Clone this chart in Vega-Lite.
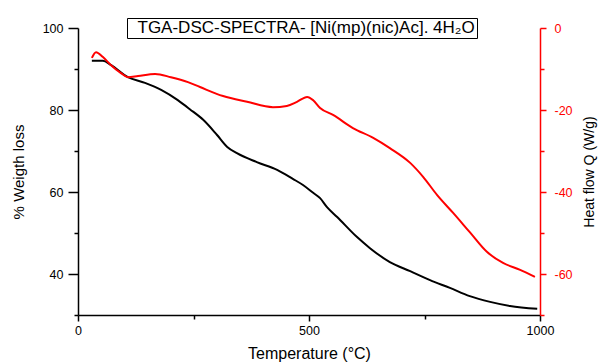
{
  "$schema": "https://vega.github.io/schema/vega-lite/v6.json",
  "width": 462,
  "height": 287,
  "autosize": {"type": "none"},
  "padding": {"left": 78, "top": 28, "right": 58, "bottom": 48},
  "background": "white",
  "config": {
    "view": {"stroke": null},
    "font": "Liberation Sans",
    "axis": {
      "labelFont": "Liberation Sans",
      "titleFont": "Liberation Sans",
      "titleFontWeight": "normal",
      "grid": false,
      "labelFlush": false,
      "domainColor": "black",
      "tickColor": "black",
      "labelColor": "black",
      "titleColor": "black",
      "domainWidth": 1.5,
      "tickWidth": 1.5,
      "labelFontSize": 12.5,
      "titleFontSize": 15
    }
  },
  "datasets": {
    "tga": [
      {"T": 30, "W": 92.0}, {"T": 54, "W": 92.0}, {"T": 71, "W": 91.0}, {"T": 108, "W": 88.0},
      {"T": 145, "W": 86.6}, {"T": 180, "W": 84.9}, {"T": 216, "W": 82.4}, {"T": 242, "W": 80.2},
      {"T": 271, "W": 77.6}, {"T": 301, "W": 73.9}, {"T": 323, "W": 71.0}, {"T": 344, "W": 69.5},
      {"T": 387, "W": 67.3}, {"T": 431, "W": 65.4}, {"T": 465, "W": 63.2}, {"T": 487, "W": 61.7},
      {"T": 509, "W": 59.8}, {"T": 524, "W": 58.5}, {"T": 539, "W": 56.3}, {"T": 561, "W": 53.9},
      {"T": 604, "W": 49.0}, {"T": 632, "W": 46.3}, {"T": 675, "W": 42.9}, {"T": 719, "W": 40.7},
      {"T": 762, "W": 38.5}, {"T": 805, "W": 36.6}, {"T": 848, "W": 34.6}, {"T": 892, "W": 33.2},
      {"T": 935, "W": 32.2}, {"T": 994, "W": 31.5}
    ],
    "dsc": [
      {"T": 30, "Q": -7.3}, {"T": 39, "Q": -5.9}, {"T": 54, "Q": -7.1}, {"T": 71, "Q": -9.0},
      {"T": 93, "Q": -11.0}, {"T": 108, "Q": -12.0}, {"T": 130, "Q": -11.7}, {"T": 167, "Q": -11.2},
      {"T": 201, "Q": -12.0}, {"T": 238, "Q": -13.2}, {"T": 264, "Q": -14.4}, {"T": 314, "Q": -16.6},
      {"T": 366, "Q": -18.0}, {"T": 422, "Q": -19.3}, {"T": 452, "Q": -19.0}, {"T": 474, "Q": -18.0},
      {"T": 496, "Q": -16.8}, {"T": 509, "Q": -17.6}, {"T": 524, "Q": -19.5}, {"T": 552, "Q": -21.2},
      {"T": 595, "Q": -24.4}, {"T": 639, "Q": -26.8}, {"T": 675, "Q": -29.3}, {"T": 719, "Q": -32.9},
      {"T": 747, "Q": -36.3}, {"T": 777, "Q": -40.7}, {"T": 812, "Q": -45.1}, {"T": 848, "Q": -49.8},
      {"T": 885, "Q": -54.6}, {"T": 920, "Q": -57.3}, {"T": 957, "Q": -59.0}, {"T": 989, "Q": -60.7}
    ]
  },
  "layer": [
    {
      "data": {"name": "tga"},
      "mark": {"type": "line", "color": "black", "strokeWidth": 2, "interpolate": "monotone"},
      "encoding": {
        "x": {
          "field": "T", "type": "quantitative",
          "scale": {"domain": [0, 1000], "nice": false},
          "axis": {
            "title": "Temperature (°C)",
            "titleFontSize": 16,
            "values": [0, 250, 500, 750, 1000],
            "format": "d",
            "labelExpr": "datum.value % 500 == 0 ? datum.label : ''",
            "tickSize": {"condition": {"test": "datum.value % 500 == 0", "value": 6}, "value": 4},
            "labelPadding": 3,
            "titlePadding": 9
          }
        },
        "y": {
          "field": "W", "type": "quantitative",
          "scale": {"domain": [30, 100], "nice": false, "zero": false},
          "axis": {
            "title": "% Weigth loss",
            "orient": "left",
            "values": [30, 40, 50, 60, 70, 80, 90, 100],
            "labelExpr": "datum.value % 20 == 0 ? datum.label : ''",
            "tickSize": {"condition": {"test": "datum.value % 20 == 0", "value": 10}, "value": 4},
            "labelPadding": 5,
            "titlePadding": 16
          }
        }
      }
    },
    {
      "data": {"name": "dsc"},
      "mark": {"type": "line", "color": "#ff0000", "strokeWidth": 2, "interpolate": "monotone"},
      "encoding": {
        "x": {"field": "T", "type": "quantitative"},
        "y": {
          "field": "Q", "type": "quantitative",
          "scale": {"domain": [-70, 0], "nice": false, "zero": false},
          "axis": {
            "title": "Heat flow Q (W/g)",
            "titleFontSize": 14,
            "orient": "right",
            "values": [-70, -60, -50, -40, -30, -20, -10, 0],
            "labelExpr": "datum.value % 20 == 0 ? '' + datum.value : ''",
            "tickSize": {"condition": {"test": "datum.value % 20 == 0", "value": 6}, "value": 4},
            "domainColor": "#ff0000",
            "tickColor": "#ff0000",
            "labelColor": "#ff0000",
            "labelPadding": 8,
            "titleAngle": -90,
            "titleBaseline": "top",
            "titlePadding": 10
          }
        }
      }
    },
    {
      "data": {"values": [{"label": "TGA-DSC-SPECTRA- [Ni(mp)(nic)Ac]. 4H₂O "}]},
      "mark": {"type": "point", "opacity": 0},
      "encoding": {
        "shape": {
          "field": "label", "type": "nominal",
          "legend": {
            "title": null,
            "orient": "none",
            "legendX": 49,
            "legendY": -10,
            "strokeColor": "black",
            "fillColor": "white",
            "padding": 1.5,
            "labelFont": "Liberation Sans",
            "labelFontSize": 17,
            "labelColor": "black",
            "labelLimit": 1000,
            "labelOffset": -8,
            "symbolSize": 0,
            "symbolOpacity": 0,
            "symbolStrokeWidth": 0
          }
        }
      }
    }
  ],
  "resolve": {"scale": {"y": "independent"}}
}
